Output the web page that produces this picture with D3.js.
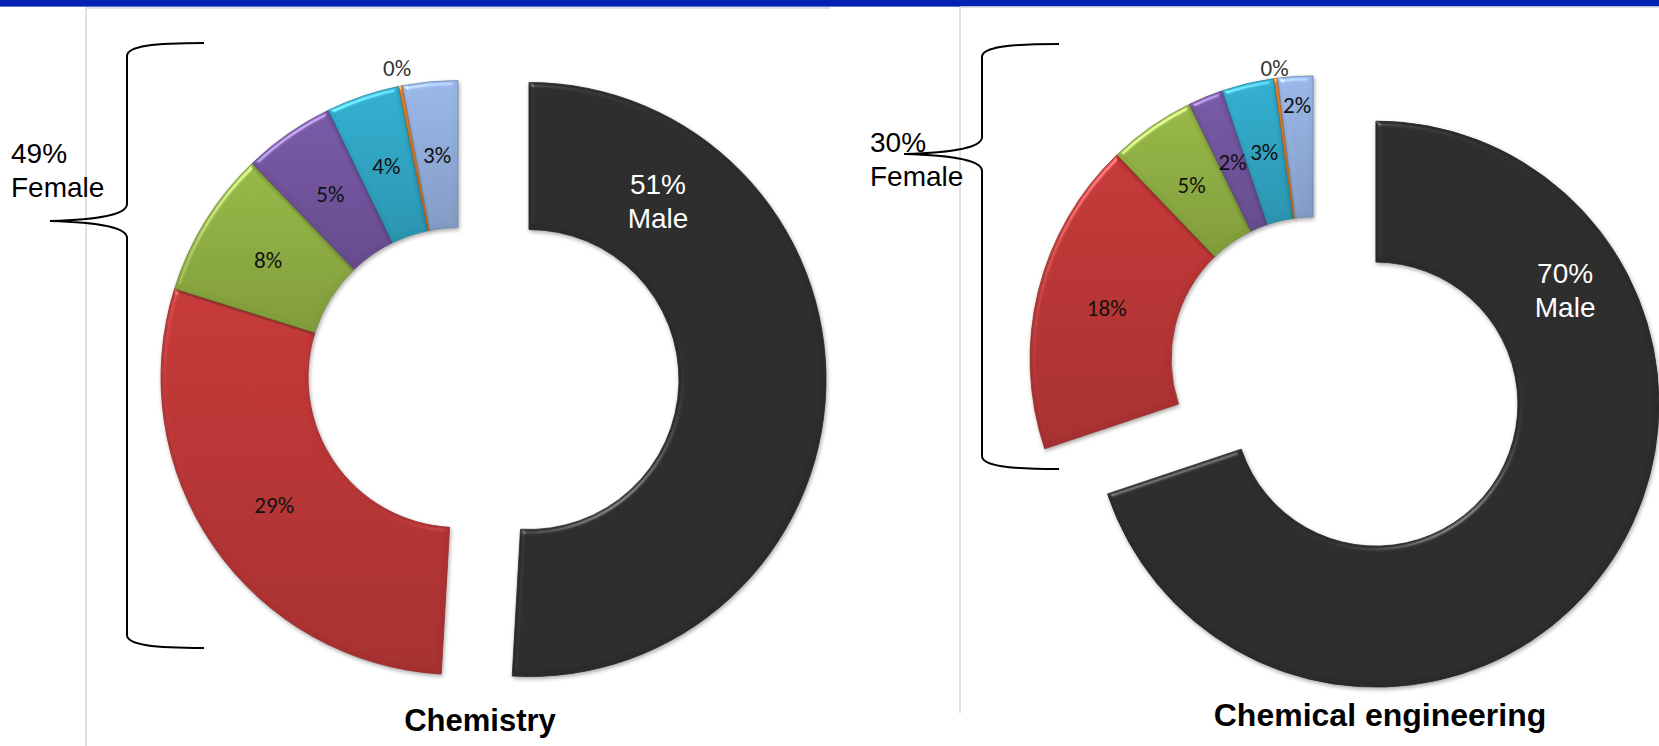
<!DOCTYPE html>
<html><head><meta charset="utf-8">
<script src="https://cdn.jsdelivr.net/npm/d3@7"></script>
<style>body{margin:0;background:#fff;overflow:hidden} svg{display:block}</style>
</head><body>
<svg id="c" width="1659" height="746"></svg>
<script>
// ---------- data ----------
const categories = ["Male", "Female group 1", "Female group 2", "Female group 3", "Female group 4", "Female group 5", "Female group 6"];
const chemistryValues = [51, 29, 8, 5, 4, 0.2, 3];
const chemEngValues   = [70, 18, 5, 2, 3, 0.2, 2];
const sliceColors = ["#2b2b2b", "#b83434", "#8cab41", "#6f529b", "#2ea3c1", "#e07a22", "#8eaad8"];
const chartTitles = ["Chemistry", "Chemical engineering"];
const femaleTotals = ["49%", "30%"];
const maleTotals = ["51%", "70%"];

// ---------- layout ----------
const charts = [
  { values: chemistryValues, title: chartTitles[0], female: femaleTotals[0], male: maleTotals[0],
    cx: 493.5, cy: 378.5, R: 297, r: 150, explode: 35.5,
    maleLabel: { angle: 35.9, radius: 220 },
    labelRadius: { 5: 315 },
    brace: { xt: 204, xv: 127, xc: 50, y0: 43, ym: 221, y1: 648 },
    groupText: { x: 11, y: 163 },
    titlePos: { x: 480, y: 731 }, titleSize: 31,
    frame: { x: 86, y: 8, x2: 830, y2: 746 } },
  { values: chemEngValues, title: chartTitles[1], female: femaleTotals[1], male: maleTotals[1],
    cx: 1344.5, cy: 381.5, R: 283, r: 142, explode: 38.7,
    maleLabel: { angle: 58.9, radius: 221 },
    labelRadius: { 5: 293, 6: 254 },
    brace: { xt: 1059, xv: 982, xc: 904, y0: 44, ym: 154, y1: 469 },
    groupText: { x: 870, y: 152 },
    titlePos: { x: 1380, y: 726 }, titleSize: 32,
    frame: { x: 960, y: 7, x2: 1659, y2: 713 } }
];

const svg = d3.select("#c");
const defs = svg.append("defs");

// top bar
svg.append("rect").attr("x", 0).attr("y", 0).attr("width", 1659).attr("height", 6).attr("fill", "#0023b4");
svg.append("rect").attr("x", 0).attr("y", 6).attr("width", 1659).attr("height", 1).attr("fill", "#5a72d4");

// gradients
const color = d3.scaleOrdinal().domain(categories).range(sliceColors);
categories.forEach((c, i) => {
  const g = defs.append("linearGradient").attr("id", "grad" + i)
    .attr("x1", 0).attr("y1", 0).attr("x2", 0).attr("y2", 1);
  const base = d3.color(color(c));
  g.append("stop").attr("offset", "0%").attr("stop-color", i === 0 ? base : base.brighter(0.18));
  g.append("stop").attr("offset", "100%").attr("stop-color", i === 0 ? base : base.darker(0.3));
});

// bevel + shadow filter
const f = defs.append("filter").attr("id", "bevel").attr("x", "-10%").attr("y", "-10%").attr("width", "120%").attr("height", "120%")
  .attr("color-interpolation-filters", "sRGB");
f.append("feGaussianBlur").attr("in", "SourceAlpha").attr("stdDeviation", 2.5).attr("result", "blur");
const sp = f.append("feSpecularLighting").attr("in", "blur").attr("surfaceScale", 3)
  .attr("specularConstant", 0.8).attr("specularExponent", 35).attr("lighting-color", "#ffffff").attr("result", "spec");
sp.append("feDistantLight").attr("azimuth", 235).attr("elevation", 40);
f.append("feComposite").attr("in", "spec").attr("in2", "SourceAlpha").attr("operator", "in").attr("result", "specOut");
f.append("feComposite").attr("in", "SourceGraphic").attr("in2", "specOut").attr("operator", "arithmetic")
  .attr("k1", 0).attr("k2", 1).attr("k3", 0.45).attr("k4", 0).attr("result", "lit");
f.append("feGaussianBlur").attr("in", "SourceAlpha").attr("stdDeviation", 2).attr("result", "sb");
f.append("feOffset").attr("in", "sb").attr("dx", 1).attr("dy", 2).attr("result", "so");
f.append("feComponentTransfer").attr("in", "so").attr("result", "sh")
  .append("feFuncA").attr("type", "linear").attr("slope", 0.35);
const m = f.append("feMerge");
m.append("feMergeNode").attr("in", "sh");
m.append("feMergeNode").attr("in", "lit");

const pie = d3.pie().sort(null).value(d => d);

charts.forEach(ch => {
  // frame lines
  svg.append("line").attr("x1", ch.frame.x).attr("y1", ch.frame.y).attr("x2", ch.frame.x2).attr("y2", ch.frame.y)
    .attr("stroke", "#d6d6d6").attr("stroke-width", 1.5);
  svg.append("line").attr("x1", ch.frame.x).attr("y1", ch.frame.y).attr("x2", ch.frame.x).attr("y2", ch.frame.y2)
    .attr("stroke", "#d6d6d6").attr("stroke-width", 1.5);

  const arcs = pie(ch.values);
  const arc = d3.arc().innerRadius(ch.r).outerRadius(ch.R);
  const maleMid = (arcs[0].startAngle + arcs[0].endAngle) / 2;
  const femMid = (arcs[1].startAngle + arcs[arcs.length - 1].endAngle) / 2;
  const off = a => [Math.sin(a) * ch.explode, -Math.cos(a) * ch.explode];
  const mo = off(maleMid), fo = off(femMid);

  const maleG = svg.append("g").attr("transform", `translate(${ch.cx + mo[0]},${ch.cy + mo[1]})`);
  const femG = svg.append("g").attr("transform", `translate(${ch.cx + fo[0]},${ch.cy + fo[1]})`);

  arcs.forEach((a, i) => {
    const g = i === 0 ? maleG : femG;
    g.append("path").attr("d", arc(a))
      .attr("fill", `url(#grad${i})`)
      .attr("stroke", d3.color(color(categories[i])).darker(0.6))
      .attr("stroke-width", 0.8)
      .attr("filter", "url(#bevel)");
  });

  // small labels
  arcs.forEach((a, i) => {
    if (i === 0) return;
    const mid = (a.startAngle + a.endAngle) / 2;
    let x, y;
    if (ch.labelRadius[i] !== undefined) {
      x = Math.sin(mid) * ch.labelRadius[i]; y = -Math.cos(mid) * ch.labelRadius[i];
    } else {
      [x, y] = arc.centroid(a);
    }
    femG.append("text").attr("x", x).attr("y", y).attr("dy", "0.35em")
      .attr("text-anchor", "middle")
      .attr("font-family", "Carlito, Calibri, 'Open Sans', sans-serif").attr("font-size", 23)
      .attr("fill", i === 5 ? "#333" : "#111")
      .text(Math.round(a.data) + "%");
  });

  // male label
  const ma = ch.maleLabel.angle * Math.PI / 180;
  const mx = Math.sin(ma) * ch.maleLabel.radius, my = -Math.cos(ma) * ch.maleLabel.radius;
  const mt = maleG.append("text").attr("text-anchor", "middle")
    .attr("font-family", "Arial, 'Liberation Sans', sans-serif").attr("font-size", 28).attr("fill", "#fff");
  mt.append("tspan").attr("x", mx).attr("y", my - 7).text(ch.male);
  mt.append("tspan").attr("x", mx).attr("y", my + 27).text("Male");

  // brace
  const b = ch.brace, p = d3.path();
  const hx = b.xv + (b.xt - b.xv) * 0.35;
  p.moveTo(b.xt, b.y0);
  p.bezierCurveTo(hx, b.y0, b.xv, b.y0 + 3, b.xv, b.y0 + 13);
  p.lineTo(b.xv, b.ym - 17);
  p.bezierCurveTo(b.xv, b.ym - 4, b.xc + (b.xv - b.xc) * 0.45, b.ym - 1, b.xc, b.ym);
  p.bezierCurveTo(b.xc + (b.xv - b.xc) * 0.45, b.ym + 1, b.xv, b.ym + 4, b.xv, b.ym + 17);
  p.lineTo(b.xv, b.y1 - 13);
  p.bezierCurveTo(b.xv, b.y1 - 3, hx, b.y1, b.xt, b.y1);
  svg.append("path").attr("d", p.toString()).attr("fill", "none").attr("stroke", "#000").attr("stroke-width", 2);

  // female group text
  const ft = svg.append("text").attr("font-family", "Arial, 'Liberation Sans', sans-serif").attr("font-size", 28).attr("fill", "#000");
  ft.append("tspan").attr("x", ch.groupText.x).attr("y", ch.groupText.y).text(ch.female);
  ft.append("tspan").attr("x", ch.groupText.x).attr("y", ch.groupText.y + 34).text("Female");

  // title
  svg.append("text").attr("x", ch.titlePos.x).attr("y", ch.titlePos.y).attr("text-anchor", "middle")
    .attr("font-family", "Arial, 'Liberation Sans', sans-serif").attr("font-weight", "bold").attr("font-size", ch.titleSize)
    .attr("fill", "#000").text(ch.title);
});
</script>
</body></html>
